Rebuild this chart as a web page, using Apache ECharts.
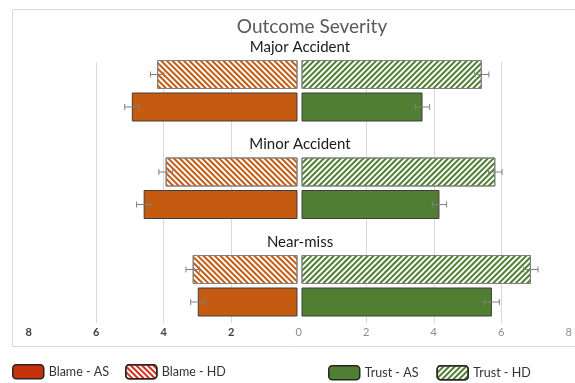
<!DOCTYPE html>
<html>
<head>
<meta charset="utf-8">
<script src="https://cdn.jsdelivr.net/npm/echarts@6/dist/echarts.min.js"></script>
<style>
  html, body { margin: 0; padding: 0; background: #fff; }
  #chart { width: 575px; height: 383px; }
</style>
</head>
<body>
<div id="chart"></div>
<script>
// Outcome groups, top to bottom
const outcomes = ['Major Accident', 'Minor Accident', 'Near-miss'];

// Mean ratings per outcome (same order as outcomes)
const blameAS = [4.95, 4.6, 3.0];
const blameHD = [4.2, 3.95, 3.15];
const trustAS = [3.65, 4.15, 5.7];
const trustHD = [5.4, 5.8, 6.85];

// Error margins per outcome
const blameASErr = [0.21, 0.21, 0.21];
const blameHDErr = [0.2, 0.2, 0.2];
const trustASErr = [0.21, 0.21, 0.22];
const trustHDErr = [0.21, 0.2, 0.21];

// Shared axis ticks
const tickMax = 8;
const tickStep = 2;

const FONT = 'Lato, "Open Sans", sans-serif';
const ORANGE = '#C55A11';
const GREEN = '#507E32';

// Each outcome gets three rows: a heading row, the HD bar, the AS bar
const rows = [];
outcomes.forEach(o => { rows.push(o, o + '|HD', o + '|AS'); });

function rowData(values, kind) {
  return rows.map(r => {
    const parts = r.split('|');
    if (parts[1] !== kind) return '-';
    return values[outcomes.indexOf(parts[0])];
  });
}

function errData(values, errs, kind) {
  const out = [];
  outcomes.forEach((o, i) => {
    const idx = rows.indexOf(o + '|' + kind);
    out.push([idx, values[i] - errs[i], values[i] + errs[i]]);
  });
  return out;
}

function errorSeries(name, xi, data) {
  return {
    type: 'custom',
    name: name + ' err',
    xAxisIndex: xi,
    yAxisIndex: xi,
    z: 5,
    silent: true,
    data: data,
    encode: { x: [1, 2], y: 0 },
    renderItem: function (params, api) {
      const row = api.value(0);
      const a = api.coord([api.value(1), row]);
      const b = api.coord([api.value(2), row]);
      const h = 3;
      const style = { stroke: '#808080', lineWidth: 1 };
      return {
        type: 'group',
        children: [
          { type: 'line', shape: { x1: a[0], y1: a[1], x2: b[0], y2: b[1] }, style: style },
          { type: 'line', shape: { x1: a[0], y1: a[1] - h, x2: a[0], y2: a[1] + h }, style: style },
          { type: 'line', shape: { x1: b[0], y1: b[1] - h, x2: b[0], y2: b[1] + h }, style: style }
        ]
      };
    }
  };
}

function hatch(color, rot) {
  return {
    symbol: 'rect',
    symbolSize: 1,
    color: color,
    dashArrayX: [1, 0],
    dashArrayY: [2, 1.8],
    rotation: rot
  };
}

const barW = 29;

const chart = echarts.init(document.getElementById('chart'), null, { renderer: 'canvas' });

const splitColors = [];
for (let v = -tickMax; v <= tickMax; v += tickStep) {
  splitColors.push(v === 0 || Math.abs(v) === tickMax ? 'rgba(0,0,0,0)' : '#d9d9d9');
}

chart.setOption({
  animation: false,
  backgroundColor: '#fff',
  title: {
    text: 'Outcome Severity',
    left: 307,
    top: 12,
    textAlign: 'center',
    textStyle: { fontFamily: FONT, fontSize: 19, fontWeight: 'normal', color: '#595959' }
  },
  graphic: [{
    type: 'rect',
    shape: { x: 12.5, y: 9.5, width: 620, height: 337 },
    style: { fill: 'none', stroke: '#d9d9d9', lineWidth: 1 },
    z: -10
  }],
  legend: [{
    left: 7,
    top: 359,
    itemWidth: 31,
    itemHeight: 14,
    itemGap: 16,
    textStyle: { fontFamily: FONT, fontSize: 12.5, color: '#333' },
    data: [
      { name: 'Blame - AS', itemStyle: { color: '#C8300C', borderColor: '#262626', borderWidth: 1.5 } },
      { name: 'Blame - HD', itemStyle: { borderColor: '#262626', borderWidth: 1.5, decal: hatch('#D0301A', Math.PI / 4) } }
    ]
  }, {
    left: 323,
    top: 360,
    itemWidth: 31,
    itemHeight: 14,
    itemGap: 18,
    textStyle: { fontFamily: FONT, fontSize: 12.5, color: '#333' },
    data: [
      { name: 'Trust - AS', itemStyle: { borderColor: '#262626', borderWidth: 1.5 } },
      { name: 'Trust - HD', itemStyle: { borderColor: '#262626', borderWidth: 1.5 } }
    ]
  }],
  grid: [
    // left bars (Blame)
    { left: 28.7, right: 278, top: 25.75, height: 292.5, containLabel: false },
    // right bars (Trust)
    { left: 302, right: 5.2, top: 25.75, height: 292.5, containLabel: false },
    // shared value scale: gridlines and tick labels
    { left: 28.7, right: 5.2, top: 62, bottom: 60, containLabel: false }
  ],
  xAxis: [
    { gridIndex: 0, type: 'value', inverse: true, min: 0.065, max: tickMax, show: false },
    { gridIndex: 1, type: 'value', min: 0.09, max: tickMax, show: false },
    {
      gridIndex: 2, type: 'value', min: -tickMax, max: tickMax, interval: tickStep,
      axisLine: { show: false }, axisTick: { show: false },
      splitLine: { show: true, lineStyle: { color: splitColors, width: 1 } },
      axisLabel: {
        margin: 4,
        formatter: function (v) {
          return v < 0 ? '{b|' + Math.abs(v) + '}' : '{n|' + v + '}';
        },
        rich: {
          b: { fontFamily: FONT, fontSize: 11, fontWeight: 'bold', color: '#404040' },
          n: { fontFamily: FONT, fontSize: 11, color: '#8c8c8c' }
        }
      }
    }
  ],
  yAxis: [
    {
      gridIndex: 0, type: 'category', data: rows, inverse: true, position: 'right',
      axisLine: { show: false }, axisTick: { show: false }, splitLine: { show: false },
      axisLabel: {
        show: true, interval: 0, margin: 3, align: 'center', verticalAlign: 'top', lineHeight: 10,
        fontFamily: FONT, fontSize: 15, color: '#1a1a1a',
        formatter: function (v) { return outcomes.indexOf(v) >= 0 ? v : ''; }
      }
    },
    {
      gridIndex: 1, type: 'category', data: rows, inverse: true, show: false
    },
    { gridIndex: 2, type: 'category', data: [''], show: false }
  ],
  series: [
    {
      name: 'Blame - AS', type: 'bar', xAxisIndex: 0, yAxisIndex: 0,
      barWidth: barW, barGap: '-100%',
      itemStyle: { color: ORANGE, borderColor: '#3f3f3f', borderWidth: 1 },
      data: rowData(blameAS, 'AS')
    },
    {
      name: 'Blame - HD', type: 'bar', xAxisIndex: 0, yAxisIndex: 0,
      barWidth: barW, barGap: '-100%',
      itemStyle: { color: '#ffffff', borderColor: '#808080', borderWidth: 1, decal: hatch(ORANGE, Math.PI / 4) },
      data: rowData(blameHD, 'HD')
    },
    {
      name: 'Trust - AS', type: 'bar', xAxisIndex: 1, yAxisIndex: 1,
      barWidth: barW, barGap: '-100%',
      itemStyle: { color: GREEN, borderColor: '#3f3f3f', borderWidth: 1 },
      data: rowData(trustAS, 'AS')
    },
    {
      name: 'Trust - HD', type: 'bar', xAxisIndex: 1, yAxisIndex: 1,
      barWidth: barW, barGap: '-100%',
      itemStyle: { color: '#ffffff', borderColor: '#808080', borderWidth: 1, decal: hatch(GREEN, -Math.PI / 4) },
      data: rowData(trustHD, 'HD')
    },
    errorSeries('Blame - AS', 0, errData(blameAS, blameASErr, 'AS')),
    errorSeries('Blame - HD', 0, errData(blameHD, blameHDErr, 'HD')),
    errorSeries('Trust - AS', 1, errData(trustAS, trustASErr, 'AS')),
    errorSeries('Trust - HD', 1, errData(trustHD, trustHDErr, 'HD'))
  ]
});
</script>
</body>
</html>
